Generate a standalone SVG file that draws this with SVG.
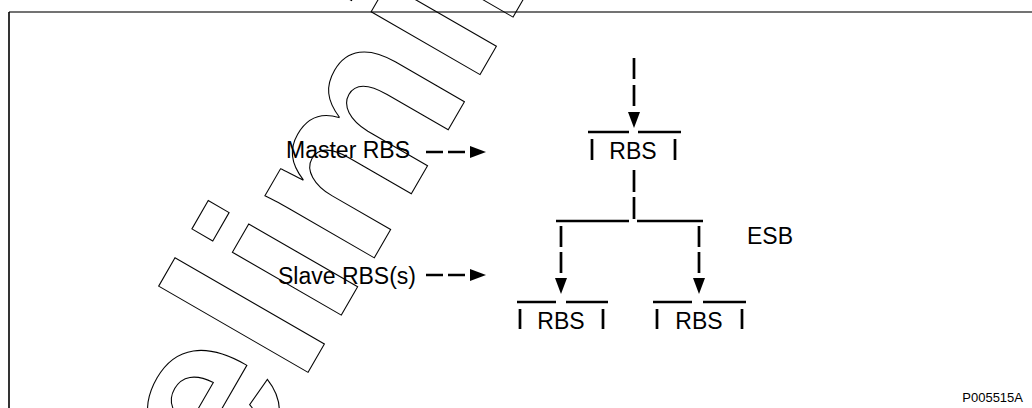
<svg xmlns="http://www.w3.org/2000/svg" width="1032" height="408" viewBox="0 0 1032 408">
<defs>
<style>
.t{font-family:"Liberation Sans",Arial,Helvetica,sans-serif;font-size:23px;fill:#000}
.c{fill:none;stroke:#000;stroke-width:2.7}
.n{fill:none;stroke:#000;stroke-width:2.7}
.wm{font-family:"Liberation Sans",Arial,sans-serif;font-weight:bold;font-size:238px;fill:none;stroke:#000;stroke-width:1.1}
</style>
<marker id="ah" markerUnits="userSpaceOnUse" markerWidth="16" markerHeight="12" refX="0" refY="6" orient="auto" overflow="visible">
<path d="M0,0 L16,6 L0,12 Z" fill="#000"/>
</marker>
</defs>
<rect x="0" y="0" width="1032" height="408" fill="#fff"/>
<g id="frame">
<line x1="9" y1="12" x2="1032" y2="12" stroke="#444" stroke-width="1.6"/>
<line x1="9" y1="12" x2="9" y2="408" stroke="#000" stroke-width="1.6"/>
</g>
<g id="watermark">
<text class="wm" transform="translate(108,719) rotate(-60)">Preliminary</text>
</g>
<g id="connectors">
<path class="c" d="M634,58 V112" stroke-dasharray="21 6" marker-end="url(#ah)"/>
<path class="c" d="M634,170 V219" stroke-dasharray="22 5"/>
<path class="c" d="M556,221 H629 M637,221 H703"/>
<path class="c" d="M561,226 V278" stroke-dasharray="21 5" marker-end="url(#ah)"/>
<path class="c" d="M699,226 V278" stroke-dasharray="21 5" marker-end="url(#ah)"/>
<path class="c" d="M426,152 H470" stroke-dasharray="17 5" marker-end="url(#ah)"/>
<path class="c" d="M426,275 H470" stroke-dasharray="17 5" marker-end="url(#ah)"/>
</g>
<g id="master-label"><text class="t" x="286" y="158">Master RBS</text></g>
<g id="slave-label"><text class="t" x="278" y="284">Slave RBS(s)</text></g>
<g id="esb-label"><text class="t" x="747" y="244">ESB</text></g>
<g id="rbs-master">
<path class="n" d="M588,132 H629 M638,132 H681 M592,139 V160 M675,139 V160"/>
<text class="t" x="633" y="159" text-anchor="middle">RBS</text>
</g>
<g id="rbs-slave-1">
<path class="n" d="M517,302 H556 M566,302 H608 M520,309 V329 M603,309 V329"/>
<text class="t" x="561" y="329" text-anchor="middle">RBS</text>
</g>
<g id="rbs-slave-2">
<path class="n" d="M653,302 H692 M703,302 H746 M657,309 V329 M742,309 V329"/>
<text class="t" x="699" y="329" text-anchor="middle">RBS</text>
</g>
<g id="figure-id"><text x="1023" y="402" text-anchor="end" style="font-family:'Liberation Sans',Arial,sans-serif;font-size:13px;fill:#000">P005515A</text></g>
</svg>
